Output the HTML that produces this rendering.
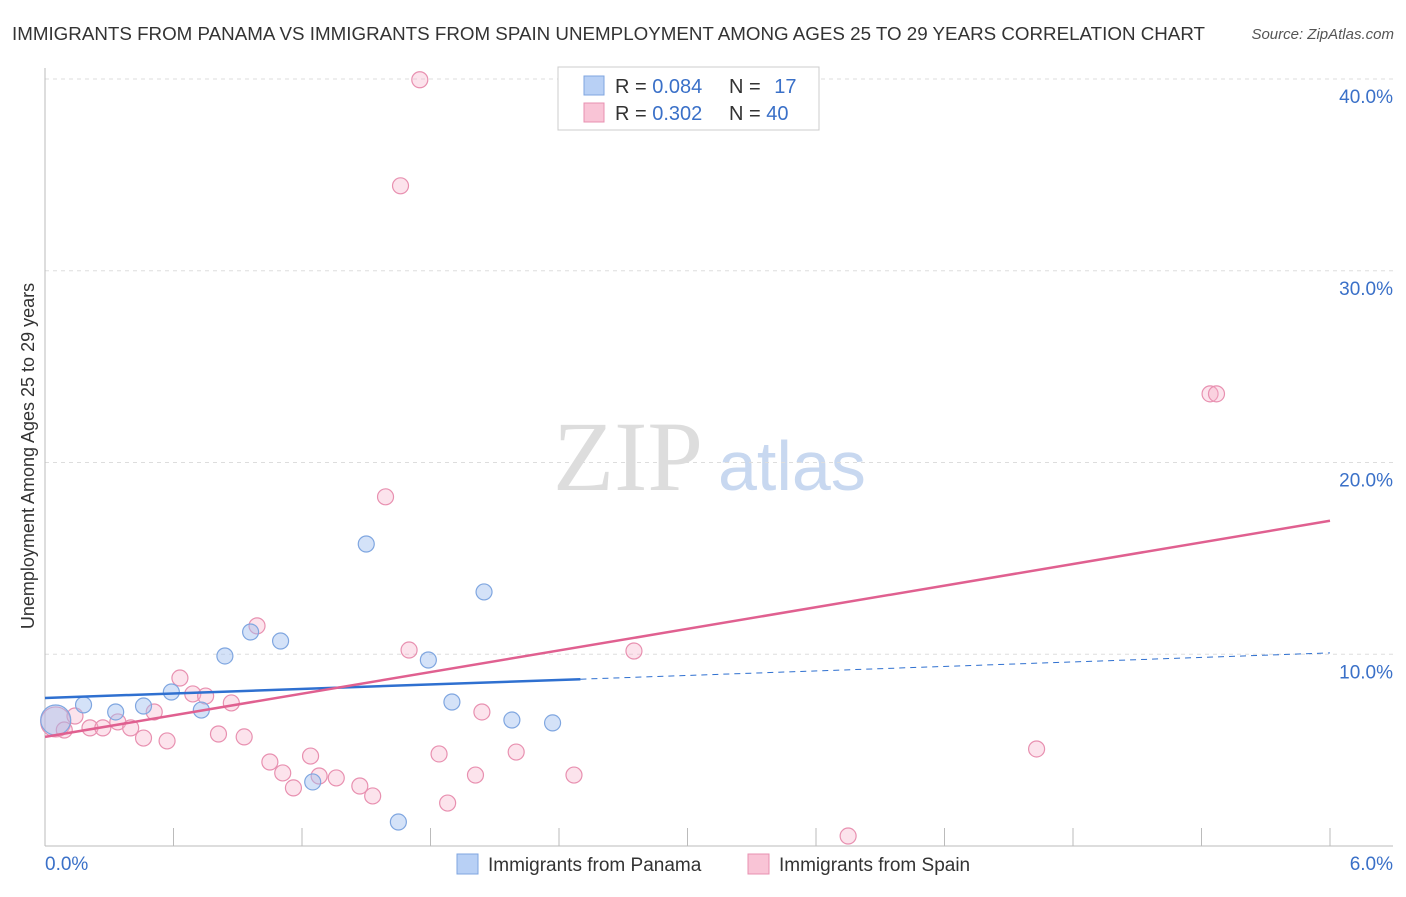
<!DOCTYPE html>
<html><head><meta charset="utf-8">
<style>
body{margin:0;background:#fff;font-family:"Liberation Sans",sans-serif;}
</style></head>
<body>
<svg id="c" width="1406" height="892" xmlns="http://www.w3.org/2000/svg" font-family="Liberation Sans, sans-serif">
<text x="12" y="40" font-size="18.5" fill="#333" textLength="1193" lengthAdjust="spacingAndGlyphs">IMMIGRANTS FROM PANAMA VS IMMIGRANTS FROM SPAIN UNEMPLOYMENT AMONG AGES 25 TO 29 YEARS CORRELATION CHART</text>
<text x="1394" y="39" font-size="15" fill="#555" font-style="italic" text-anchor="end">Source: ZipAtlas.com</text>
<text x="553" y="490" font-size="100" fill="#ddd" style="font-family:'Liberation Serif',serif">ZIP</text>
<text x="718" y="490" font-size="70" fill="#c8d8f0">atlas</text>
<text transform="translate(34,456) rotate(-90)" font-size="18" fill="#333" text-anchor="middle">Unemployment Among Ages 25 to 29 years</text>
<g id="grid"></g><g id="pts"></g><g id="trend"></g>
<g>
<rect x="558" y="67" width="261" height="63" fill="#fff" stroke="#ccc"/>
<rect x="584" y="76" width="20" height="19" fill="#b8d0f5" stroke="#7fa6e0"/>
<rect x="584" y="103" width="20" height="19" fill="#f9c4d6" stroke="#e890b0"/>
<text x="615" y="93" font-size="20" fill="#333">R = <tspan fill="#3a70c8">0.084</tspan></text>
<text x="729" y="93" font-size="20" fill="#333">N = <tspan fill="#3a70c8" dx="8">17</tspan></text>
<text x="615" y="120" font-size="20" fill="#333">R = <tspan fill="#3a70c8">0.302</tspan></text>
<text x="729" y="120" font-size="20" fill="#333">N = <tspan fill="#3a70c8">40</tspan></text>
</g>
<g>
<rect x="457" y="854" width="21" height="20" fill="#b8d0f5" stroke="#7fa6e0"/>
<text x="488" y="871" font-size="19" fill="#333">Immigrants from Panama</text>
<rect x="748" y="854" width="21" height="20" fill="#f9c4d6" stroke="#e890b0"/>
<text x="779" y="871" font-size="19" fill="#333">Immigrants from Spain</text>
</g>
</svg>
<script>
const xTicks=["0.0%","6.0%"];
const yTickVals=[10,20,30,40];
const yTickLabels=["10.0%","20.0%","30.0%","40.0%"];
const panamaX=[0.05,0.18,0.33,0.46,0.59,0.73,0.84,0.96,1.10,1.25,1.50,1.65,1.79,1.90,2.05,2.18,2.37];
const panamaY=[6.57,7.36,6.99,7.30,8.03,7.09,9.91,11.16,10.69,3.34,15.75,1.25,9.70,7.51,13.25,6.57,6.42];
const spainX=[0.05,0.09,0.14,0.21,0.27,0.34,0.40,0.46,0.51,0.57,0.63,0.69,0.75,0.81,0.87,0.93,0.99,1.05,1.11,1.16,1.24,1.28,1.36,1.47,1.53,1.59,1.66,1.70,1.75,1.84,1.88,2.01,2.04,2.20,2.47,2.75,3.75,4.63,5.44,5.47];
const spainY=[6.47,6.05,6.78,6.16,6.16,6.47,6.16,5.63,6.99,5.48,8.76,7.93,7.82,5.84,7.46,5.69,11.48,4.38,3.81,3.03,4.69,3.65,3.55,3.13,2.61,18.21,34.43,10.22,39.96,4.80,2.24,3.70,6.99,4.90,3.70,10.17,0.52,5.06,23.58,23.58];
const panamaTrend=[7.72,10.07];
const spainTrend=[5.69,16.96];
const NS="http://www.w3.org/2000/svg";
const X=v=>45+v*(1330-45)/6, Y=v=>846-v*(846-79)/40;
function mk(p,t,a){const e=document.createElementNS(NS,t);for(const k in a)e.setAttribute(k,a[k]);p.appendChild(e);return e;}
const grid=document.getElementById('grid');
yTickVals.forEach((v,i)=>{
 const l=mk(grid,'line',{x1:45,x2:1393,y1:Y(v),y2:Y(v),stroke:'#ddd','stroke-dasharray':'4,4'});
 
 
 const t=mk(grid,'text',{x:1393,y:Y(v)+24,'font-size':19,fill:'#3a70c8','text-anchor':'end'});
 t.textContent=yTickLabels[i];
 
 
});
const ax=mk(grid,'line',{x1:45,x2:1393,y1:846,y2:846,stroke:'#bbb'});


const ay=mk(grid,'line',{x1:45,x2:45,y1:68,y2:846,stroke:'#bbb'});


for(let i=0;i<=10;i++){const t=mk(grid,'line',{x1:X(i*0.6),x2:X(i*0.6),y1:828,y2:846,stroke:'#bbb'});
 
 }
xTicks.forEach((s,i)=>{const t=mk(grid,'text',{x:i?1393:45,y:870,'font-size':19,fill:'#3a70c8','text-anchor':i?'end':'start'});t.textContent=s;
 
 });
const pts=document.getElementById('pts');
spainX.forEach((x,i)=>{const c=mk(pts,'circle',{cx:X(x),cy:Y(spainY[i]),r:i==0?15:8,fill:'rgba(246,175,200,0.35)',stroke:'#e890b0','stroke-width':1.2});
 
 });
panamaX.forEach((x,i)=>{const c=mk(pts,'circle',{cx:X(x),cy:Y(panamaY[i]),r:i==0?15:8,fill:'rgba(160,190,240,0.45)',stroke:'#7fa6e0','stroke-width':1.2});
 
 });
const tr=document.getElementById('trend');
const pb=v=>panamaTrend[0]+(panamaTrend[1]-panamaTrend[0])*v/6;
let l1=mk(tr,'line',{x1:X(0),y1:Y(pb(0)),x2:X(2.5),y2:Y(pb(2.5)),stroke:'#2f70d0','stroke-width':2.5});


let l2=mk(tr,'line',{x1:X(2.5),y1:Y(pb(2.5)),x2:X(6),y2:Y(pb(6)),stroke:'#2f70d0','stroke-width':1,'stroke-dasharray':'6,5'});


let l3=mk(tr,'line',{x1:X(0),y1:Y(spainTrend[0]),x2:X(6),y2:Y(spainTrend[1]),stroke:'#e06090','stroke-width':2.5});


</script>
</body></html>
